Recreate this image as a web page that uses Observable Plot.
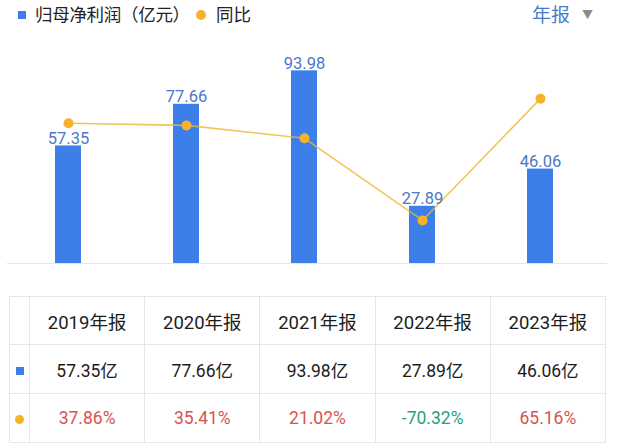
<!DOCTYPE html>
<html>
<head>
<meta charset="utf-8">
<script src="https://cdn.jsdelivr.net/npm/d3@7"></script>
<script src="https://cdn.jsdelivr.net/npm/@observablehq/plot@0.6"></script>
<style>
  html, body { margin: 0; padding: 0; background: #fff; }
  body { width: 618px; height: 448px; position: relative; overflow: hidden;
         font-family: Roboto, "Noto Sans CJK SC", sans-serif; }
  #legend { position: absolute; left: 0; top: 0; width: 618px; height: 34px; }
  #legend .sq { position: absolute; left: 18px; top: 11px; width: 8px; height: 8px; background: #3d7fe9; }
  #legend .t1 { position: absolute; left: 35px; top: 3px; font-size: 17.5px; color: #222; line-height: 24px; letter-spacing: -0.3px; }
  #legend .dot { position: absolute; left: 196px; top: 10px; width: 10px; height: 10px; border-radius: 50%; background: #f6b22d; }
  #legend .t2 { position: absolute; left: 216px; top: 3px; font-size: 17.5px; color: #222; line-height: 24px; }
  #legend .t3 { position: absolute; left: 532px; top: 3px; font-size: 19px; color: #4a7cc4; line-height: 26px; }
  #legend .tri { position: absolute; left: 582px; top: 9px; font-size: 11px; color: #8a8a8a; line-height: 14px; }
  #chart { position: absolute; left: 0; top: 34px; }
  #table { position: absolute; left: 9px; top: 296px; border-collapse: collapse; table-layout: fixed; width: 597px; }
  #table td { border: 1px solid #e6e6e6; text-align: center; padding: 0; font-size: 17.5px; color: #1c1c1c; }
  #table tr.h td { height: 47px; font-size: 18.5px; }
  #table tr.r td { height: 48px; }
  .mk-sq { display: inline-block; width: 8px; height: 8px; background: #3d7fe9; }
  .mk-dot { display: inline-block; width: 9px; height: 9px; border-radius: 50%; background: #f6b22d; }
</style>
</head>
<body>
<div id="legend">
  <div class="sq"></div><div class="t1">归母净利润（亿元）</div>
  <div class="dot"></div><div class="t2">同比</div>
  <div class="t3">年报</div><div class="tri">▼</div>
</div>
<div id="chart"></div>
<table id="table"></table>
<script>
const years = ["2019年报", "2020年报", "2021年报", "2022年报", "2023年报"];
const profit = [57.35, 77.66, 93.98, 27.89, 46.06];
const yoy = [37.86, 35.41, 21.02, -70.32, 65.16];

const data = years.map((y, i) => ({year: y, profit: profit[i], yoy: yoy[i]}));

// secondary (YoY %) axis mapped onto the primary axis units
const yoyToPrimary = d3.scaleLinear().domain([-118.2, 109.8]).range([0, 100]);

const chart = Plot.plot({
  width: 618,
  height: 256,
  marginLeft: 9,
  marginRight: 19,
  marginTop: 24,
  marginBottom: 27,
  style: {fontFamily: "Roboto, 'Noto Sans CJK SC', sans-serif", background: "transparent"},
  x: {domain: years, paddingInner: 0.78, paddingOuter: 0.39, axis: null},
  y: {domain: [0, 100], axis: null},
  marks: [
    Plot.ruleY([0], {stroke: "#e6e6e6", insetLeft: -2, insetRight: -8}),
    Plot.barY(data, {x: "year", y: "profit", fill: "#3d7fe9"}),
    Plot.line(data, {x: "year", y: d => yoyToPrimary(d.yoy), stroke: "#efb52e", strokeOpacity: 0.8, strokeWidth: 1.6}),
    Plot.dot(data, {x: "year", y: d => yoyToPrimary(d.yoy), r: 5, fill: "#f6b22d", stroke: "none"}),
    Plot.text(data, {x: "year", y: "profit", text: d => d.profit.toFixed(2), lineAnchor: "bottom", dy: -2, fill: "#4b78c6", fontSize: 16.5})
  ]
});
document.getElementById("chart").appendChild(chart);

// data table
const table = document.getElementById("table");
const colgroup = document.createElement("colgroup");
colgroup.innerHTML = `<col style="width:20px">` + years.map(() => `<col>`).join("");
table.appendChild(colgroup);
const rowH = document.createElement("tr"); rowH.className = "h";
rowH.innerHTML = `<td></td>` + years.map(y => `<td>${y}</td>`).join("");
const rowP = document.createElement("tr"); rowP.className = "r";
rowP.innerHTML = `<td><span class="mk-sq"></span></td>` + profit.map(v => `<td>${v.toFixed(2)}亿</td>`).join("");
const rowY = document.createElement("tr"); rowY.className = "r";
rowY.innerHTML = `<td><span class="mk-dot"></span></td>` + yoy.map(v => `<td style="color:${v < 0 ? "#2e9e76" : "#d9534f"}">${v.toFixed(2)}%</td>`).join("");
table.appendChild(rowH); table.appendChild(rowP); table.appendChild(rowY);
</script>
</body>
</html>
